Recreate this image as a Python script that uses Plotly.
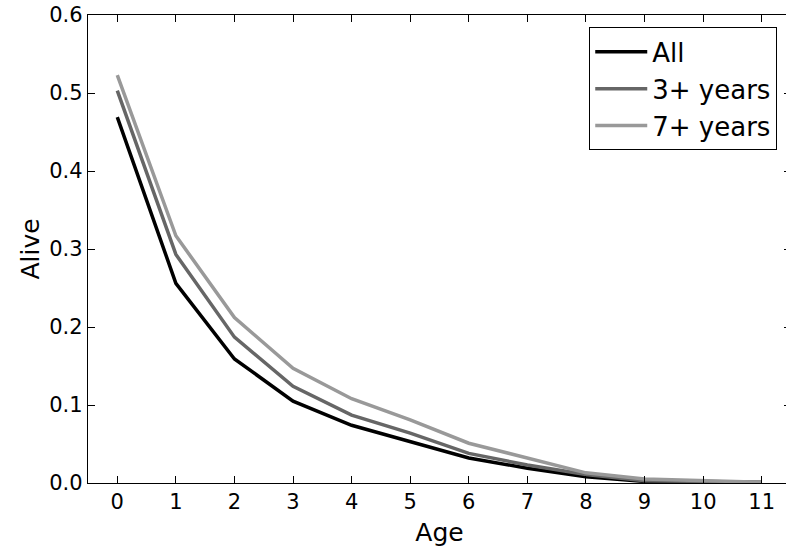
import plotly.graph_objects as go

ages = list(range(12))
all_vals = [0.469, 0.256, 0.159, 0.105, 0.074, 0.053, 0.032, 0.019, 0.008, 0.002, 0.001, 0.0005]
three_vals = [0.503, 0.293, 0.187, 0.124, 0.087, 0.064, 0.038, 0.023, 0.011, 0.003, 0.002, 0.001]
seven_vals = [0.523, 0.317, 0.212, 0.147, 0.108, 0.081, 0.051, 0.032, 0.013, 0.005, 0.003, 0.001]
series_names = ["All", "3+ years", "7+ years"]
colors = ["#000000", "#666666", "#999999"]

fig = go.Figure()
for name, vals, c in zip(series_names, [all_vals, three_vals, seven_vals], colors):
    fig.add_trace(go.Scatter(x=ages, y=vals, mode="lines", name=name,
                             line=dict(color=c, width=3.5)))

font = "DejaVu Sans, sans-serif"
fig.update_layout(
    width=794, height=551,
    margin=dict(l=88, r=3, t=15, b=68, autoexpand=False),
    plot_bgcolor="white", paper_bgcolor="white",
    font=dict(family=font, size=21, color="black"),
    showlegend=True,
    legend=dict(x=0.98, y=0.974, xanchor="right", yanchor="top",
                bordercolor="black", borderwidth=1.3, bgcolor="white",
                itemwidth=52,
                font=dict(size=26, family=font)),
    xaxis=dict(range=[-0.5, 11.5], tickmode="array", tickvals=ages,
               ticktext=[str(a) for a in ages], automargin=False,
               showgrid=False, zeroline=False, showline=True, linecolor="black",
               linewidth=1.3, ticks="inside", ticklen=7, tickcolor="black",
               mirror="ticks",
               title=dict(text="Age", font=dict(size=25), standoff=10)),
    yaxis=dict(range=[0, 0.6], tickmode="array", automargin=False,
               tickvals=[0, 0.1, 0.2, 0.3, 0.4, 0.5, 0.6],
               ticktext=["0.0", "0.1", "0.2", "0.3", "0.4", "0.5", "0.6"],
               ticklabeloverflow="allow",
               showgrid=False, zeroline=False, showline=True, linecolor="black",
               linewidth=1.3, ticks="inside", ticklen=7, tickcolor="black",
               mirror="ticks",
               title=dict(text="Alive", font=dict(size=25), standoff=2)),
)

fig.write_html("out.html", config={"displayModeBar": False},
               post_script="document.body.style.margin='0';document.body.style.overflow='hidden';")
